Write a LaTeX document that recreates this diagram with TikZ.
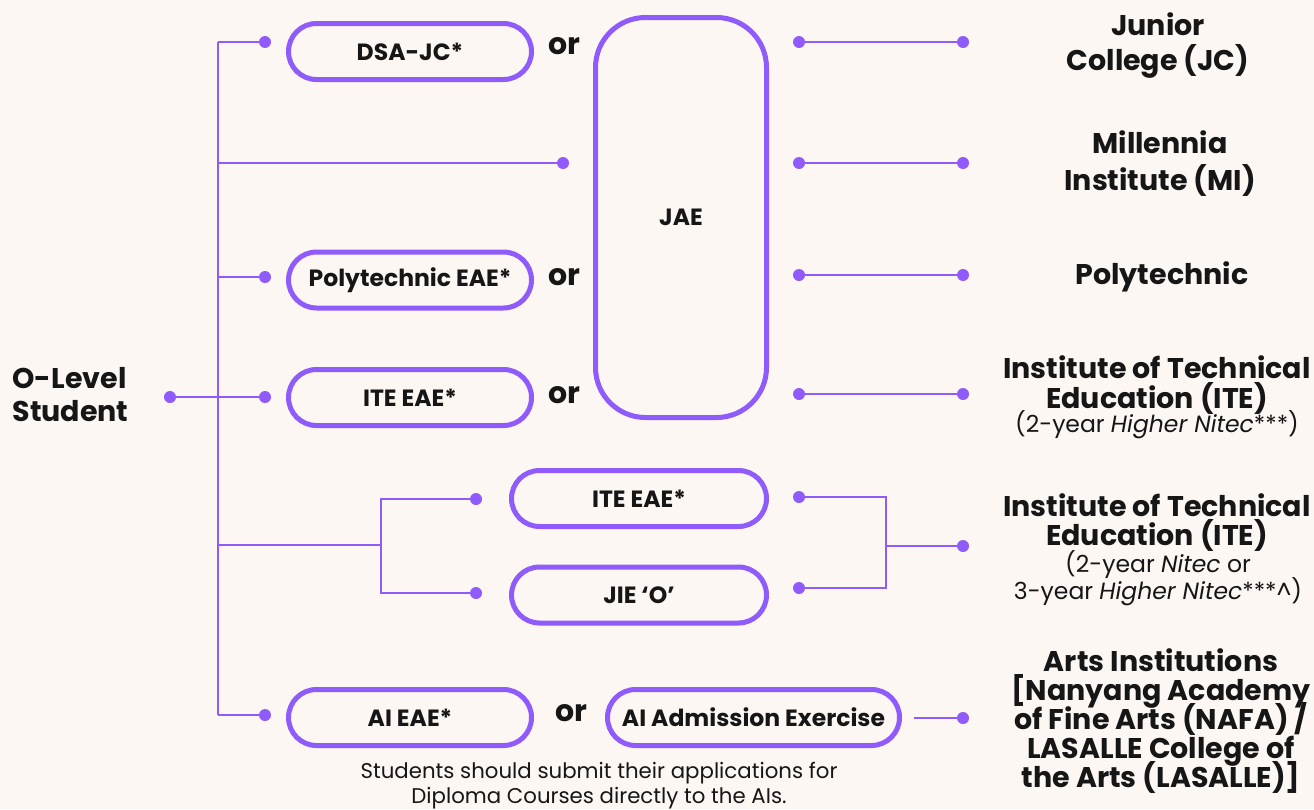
\documentclass[tikz,border=0pt]{standalone}
\usepackage{fontspec}
\setmainfont{Poppins}
\definecolor{pur}{HTML}{8F5BFA}
\definecolor{bg}{HTML}{FDF7F4}
\definecolor{txt}{HTML}{161616}
\begin{document}
\lineskiplimit=-100pt
\lineskip=0pt
\begin{tikzpicture}[x=1pt,y=-1pt,
  pill/.style={draw=pur, line width=5pt, rounded corners=28pt, minimum width=243pt, minimum height=56pt,
    inner sep=0pt, text=txt, font=\bfseries\fontsize{23.5}{26}\selectfont},
  dot/.style={circle, fill=pur, inner sep=0pt, minimum size=12pt},
  conn/.style={draw=pur, line width=2.5pt},
  ortext/.style={text=txt, font=\bfseries\fontsize{30}{32}\selectfont},
  biglab/.style={text=txt, align=center, font=\bfseries\fontsize{28.5}{30}\selectfont},
  sublab/.style={text=txt, align=center, font=\fontsize{23.5}{27}\selectfont},
  note/.style={text=txt, align=center, font=\fontsize{21.3}{25}\selectfont}]
\useasboundingbox (0,0) rectangle (1314,809);
\fill[bg] (0,0) rectangle (1314,809);

% left label
\node[biglab, align=left, anchor=west, font=\bfseries\fontsize{28.5}{33}\selectfont] (olevel) at (9,395) {O-Level\\Student};

% boxes
\node[pill] (dsa) at (410,51.5) {DSA-JC*};
\node[pill] (poly) at (410,280) {Polytechnic EAE*};
\node[pill] (ite1) at (410,397.5) {ITE EAE*};
\node[pill, minimum width=255pt] (ite2) at (639,498.5) {ITE EAE*};
\node[pill, minimum width=255pt] (jie) at (639,595) {JIE ‘O’};
\node[pill] (aieae) at (410,717.5) {AI EAE*};
\node[pill, minimum width=292pt] (aiad) at (753.5,717.5) {AI Admission Exercise};
\node[pill, rounded corners=50pt, minimum width=171pt, minimum height=400pt] (jae) at (681,217.5) {JAE};

% or
\node[ortext] (or1) at (564,46) {or};
\node[ortext] (or2) at (564,277) {or};
\node[ortext] (or3) at (564,395) {or};
\node[ortext] (or4) at (571,713) {or};

% trunk coordinates
\coordinate (ttop) at (218,42);
\coordinate (tmi) at (218,163);
\coordinate (tpoly) at (218,277);
\coordinate (tite) at (218,397);
\coordinate (tsplit) at (218,545);
\coordinate (tbot) at (218,715);
\coordinate (sx) at (381,545);
\coordinate (sxt) at (381,499);
\coordinate (sxb) at (381,593);

% left dots
\node[dot] (dstart) at (170,397) {};
\node[dot] (ddsa) at (265,42) {};
\node[dot] (dmi) at (563,163) {};
\node[dot] (dpoly) at (265,277) {};
\node[dot] (dite) at (265,397) {};
\node[dot] (dai) at (265,715) {};
\node[dot] (dite2) at (476,499) {};
\node[dot] (djie) at (476,593) {};

\draw[conn] (ttop) -- (tbot);
\draw[conn] (ttop) -- (ddsa);
\draw[conn] (tmi) -- (dmi);
\draw[conn] (tpoly) -- (dpoly);
\draw[conn] (dstart) -- (dite);
\draw[conn] (tbot) -- (dai);
\draw[conn] (tsplit) -- (sx);
\draw[conn] (dite2) -- (sxt) -- (sxb) -- (djie);

% right side
\node[dot] (rjc1) at (799,42) {};
\node[dot] (rjc2) at (963,42) {};
\node[dot] (rmi1) at (799,163) {};
\node[dot] (rmi2) at (963,163) {};
\node[dot] (rpo1) at (799,275) {};
\node[dot] (rpo2) at (963,275) {};
\node[dot] (rit1) at (799,394) {};
\node[dot] (rit2) at (963,394) {};
\node[dot] (rbt) at (799,497) {};
\node[dot] (rbb) at (799,588) {};
\node[dot] (rbm) at (963,546) {};
\node[dot] (rai) at (963,718) {};
\coordinate (bxt) at (886,497);
\coordinate (bxb) at (886,588);
\coordinate (bxm) at (886,546);
\coordinate (aistart) at (914,718);

\draw[conn] (rjc1) -- (rjc2);
\draw[conn] (rmi1) -- (rmi2);
\draw[conn] (rpo1) -- (rpo2);
\draw[conn] (rit1) -- (rit2);
\draw[conn] (rbt) -- (bxt) -- (bxb) -- (rbb);
\draw[conn] (bxm) -- (rbm);
\draw[conn] (aistart) -- (rai);

% right labels
\node[biglab, font=\bfseries\fontsize{28.5}{35}\selectfont] (ljc) at (1158,46) {Junior\\College (JC)};
\node[biglab, font=\bfseries\fontsize{28.5}{37}\selectfont] (lmi) at (1160,164) {Millennia\\Institute (MI)};
\node[biglab] (lpo) at (1162,277) {Polytechnic};
\node[biglab] (lit1) at (1157,385) {Institute of Technical\\Education (ITE)};
\node[sublab] (lit1s) at (1157,425) {(2-year \textit{Higher Nitec}***)};
\node[biglab, font=\bfseries\fontsize{28.5}{29}\selectfont] (lit2) at (1157,523) {Institute of Technical\\Education (ITE)};
\node[sublab] (lit2s) at (1158,578) {(2-year \textit{Nitec} or\\3-year \textit{Higher Nitec}***\^{})};
\node[biglab, font=\bfseries\fontsize{28.5}{29}\selectfont] (lart) at (1161,721) {Arts Institutions\\{}[Nanyang Academy\\of Fine Arts (NAFA) /\\LASALLE College of\\the Arts (LASALLE)]};

% note
\node[note] (nt) at (599,786) {Students should submit their applications for\\Diploma Courses directly to the AIs.};
\end{tikzpicture}
\end{document}
